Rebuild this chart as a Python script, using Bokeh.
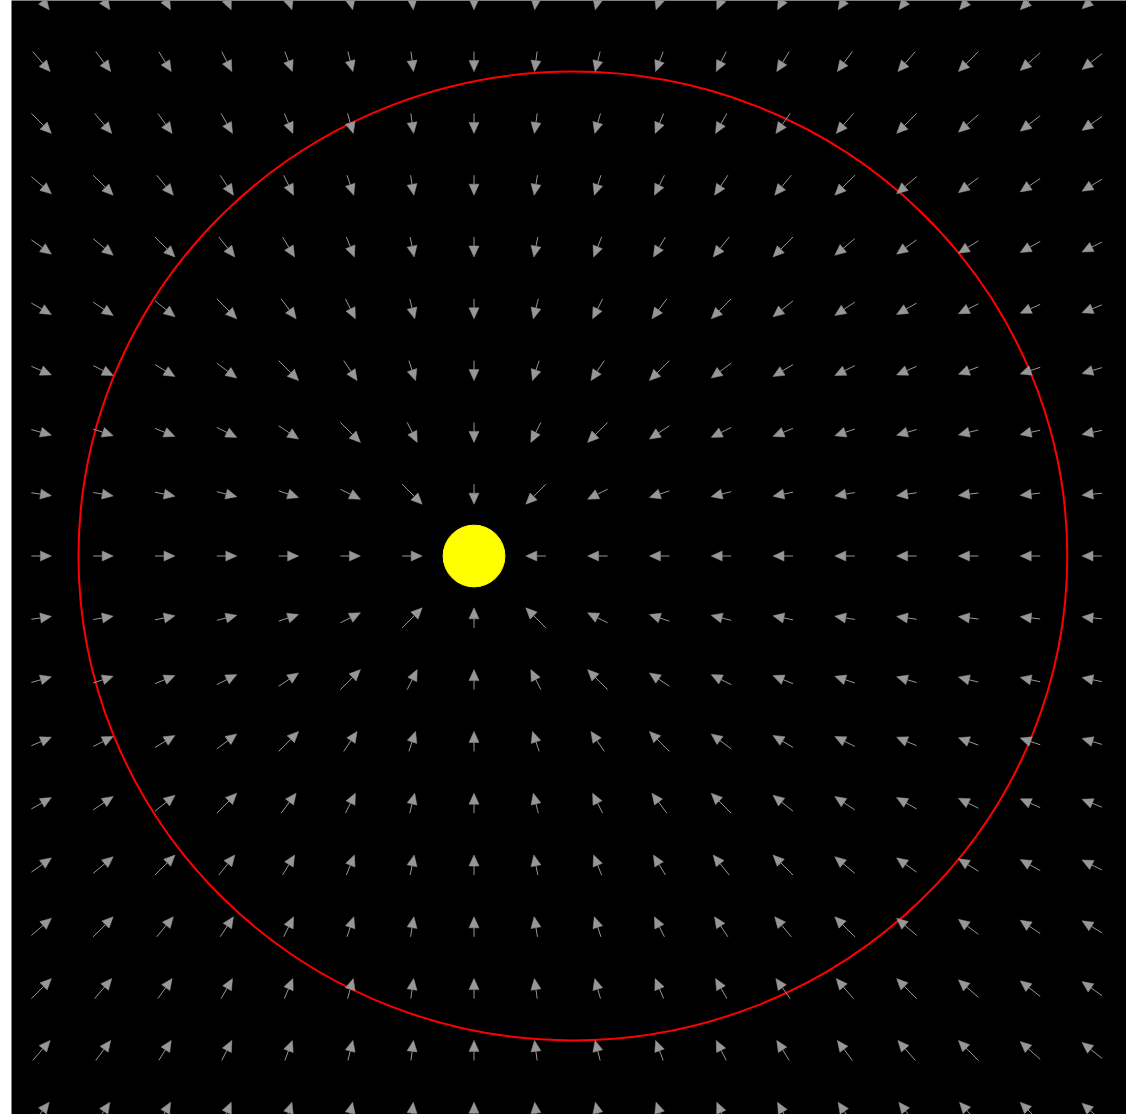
import numpy as np
from bokeh.plotting import figure
from bokeh.models import Range1d
from bokeh.embed import file_html
from bokeh.resources import INLINE

# Sample points of the gravity field (in orbit units)
grid_x = [-7, -6, -5, -4, -3, -2, -1, 0, 1, 2, 3, 4, 5, 6, 7, 8, 9, 10]
grid_y = [-9, -8, -7, -6, -5, -4, -3, -2, -1, 0, 1, 2, 3, 4, 5, 6, 7, 8, 9]

# Central body
sun_x = 0.0
sun_y = 0.0
sun_radius = 0.5

# Orbit: semi-major axis and eccentricity, sun at the left focus
orbit_a = 8.0
orbit_e = 0.2

# Arrow geometry in data units (61.8 px per unit)
arrow_len = 0.3236      # largest component of an arrow
head_len = 0.178
head_half_w = 0.081

ARROW_COLOR = "#979797"

p = figure(
    width=1126, height=1114,
    x_range=Range1d(-7.484, 10.558), y_range=Range1d(-9.037, 8.989),
    x_axis_type=None, y_axis_type=None,
    output_backend="svg", toolbar_location=None,
    min_border_left=11, min_border_right=0, min_border_top=0, min_border_bottom=0,
    background_fill_color="black", border_fill_color="white",
)
p.outline_line_color = None
p.grid.visible = False

# Orbit ellipse
orbit_b = orbit_a * np.sqrt(1 - orbit_e ** 2)
p.ellipse(x=[sun_x + orbit_a * orbit_e], y=[sun_y], width=[2 * orbit_a], height=[2 * orbit_b],
          fill_color=None, line_color="#ff0000", line_width=2)

# Sun
p.circle(x=[sun_x], y=[sun_y], radius=sun_radius, fill_color="#ffff00", line_color="#ffff00")

# Field arrows pointing towards the sun, centred on each grid point
sx0, sy0, sx1, sy1 = [], [], [], []
hx, hy = [], []
for gy in grid_y:
    for gx in grid_x:
        dx = sun_x - gx
        dy = sun_y - gy
        m = max(abs(dx), abs(dy))
        if m == 0:
            continue
        ux = dx / m * arrow_len
        uy = dy / m * arrow_len
        tail = (gx - ux / 2, gy - uy / 2)
        tip = (gx + ux / 2, gy + uy / 2)
        n = np.hypot(ux, uy)
        ex, ey = ux / n, uy / n           # unit direction
        px_, py_ = -ey, ex                # perpendicular
        bx, by = tip[0] - ex * head_len, tip[1] - ey * head_len
        sx0.append(tail[0]); sy0.append(tail[1])
        sx1.append(bx); sy1.append(by)
        hx.append([tip[0], bx + px_ * head_half_w, bx - px_ * head_half_w])
        hy.append([tip[1], by + py_ * head_half_w, by - py_ * head_half_w])

p.segment(x0=sx0, y0=sy0, x1=sx1, y1=sy1, line_color=ARROW_COLOR, line_width=1)
p.patches(xs=hx, ys=hy, fill_color=ARROW_COLOR, line_color=ARROW_COLOR, line_width=0.5)

open("out.html", "w").write(file_html(p, INLINE))
